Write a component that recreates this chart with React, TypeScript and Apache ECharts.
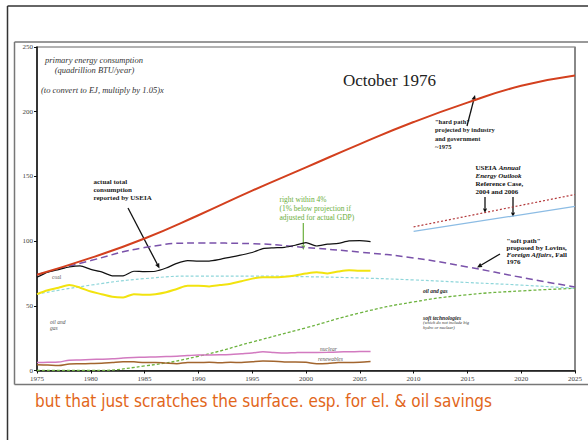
import React, { useEffect, useRef } from "react";
import * as echarts from "echarts";

// ---- data ----
const projYears = [1975, 1980, 1985, 1990, 1995, 2000, 2005, 2010, 2015, 2020, 2025];
const hardPath = [74, 87, 102, 120, 139, 157, 175, 192, 207, 220, 228];
const softPath = [74, 85, 95, 98.5, 98, 95, 91.5, 87, 80, 72, 64.5];
const softOilGas = [59, 66, 71, 73, 73, 72.5, 71.5, 70, 68, 66, 63.5];
const softTech = [0, 0, 3.5, 11, 22, 33, 44.5, 53, 58.5, 61.5, 63.5];

const histYears = [
  1975, 1976, 1977, 1978, 1979, 1980, 1981, 1982, 1983, 1984, 1985, 1986, 1987, 1988, 1989, 1990,
  1991, 1992, 1993, 1994, 1995, 1996, 1997, 1998, 1999, 2000, 2001, 2002, 2003, 2004, 2005, 2006,
];
const actualTotal = [
  72, 76, 78, 80, 80.9, 78.1, 76.2, 73.2, 73.1, 76.7, 76.4, 76.7, 79.2, 82.8, 84.9, 84.6,
  84.6, 85.9, 87.6, 89.3, 91.2, 94.2, 94.8, 95.2, 96.8, 98.8, 96.2, 97.7, 98.2, 100.2, 100.3, 99.6,
];
const oilGasActual = [
  59, 62, 64, 66, 64, 61, 59, 57, 56.5, 59, 58.5, 59, 60.5, 63, 65.5, 65.5,
  65, 66, 67, 69, 71, 72, 72, 72.5, 73.5, 75, 76, 75, 76.5, 77.5, 77, 77,
];
const nuclearActual = [
  6.2, 6.3, 6.5, 8, 8.2, 8.5, 8.7, 9, 9.6, 10, 10.3, 10.5, 10.8, 11, 11.5, 12,
  12, 12.1, 12.4, 13, 13.6, 14.5, 14, 13.5, 13.8, 14, 14, 14.1, 14.3, 14.5, 14.6, 14.7,
];
const renewablesActual = [
  4.5, 4.2, 3.8, 5, 5.2, 5.4, 5.6, 6.2, 6.8, 6.7, 6.2, 6.2, 5.7, 5.3, 6.2, 6.2,
  6.3, 6, 6.3, 6.2, 6.8, 7.3, 7.2, 6.6, 6.6, 6.3, 5.3, 5.5, 6.1, 6.2, 6.4, 6.9,
];

const aeoYears = [2010, 2025];
const aeo2004 = [111, 136];
const aeo2006 = [107.5, 126.8];

const xTicks = [1975, 2025, 5];
const yTicks = [0, 250, 50];

const pairs = (xs: number[], ys: number[]) => xs.map((x, i) => [x, ys[i]]);

const SERIF = "'Liberation Serif', 'DejaVu Serif', serif";

function arrow(x1: number, y1: number, x2: number, y2: number, color: string, w = 1.3, head = 5) {
  const a = Math.atan2(y2 - y1, x2 - x1);
  const hw = head * 0.45;
  const bx = x2 - head * Math.cos(a);
  const by = y2 - head * Math.sin(a);
  const px = -Math.sin(a) * hw;
  const py = Math.cos(a) * hw;
  return [
    { type: "line", silent: true, shape: { x1, y1, x2: bx, y2: by }, style: { stroke: color, lineWidth: w } },
    {
      type: "polygon",
      silent: true,
      shape: { points: [[x2, y2], [bx + px, by + py], [bx - px, by - py]] },
      style: { fill: color },
    },
  ];
}

function txt(x: number, y: number, text: string, opts: any = {}) {
  return {
    type: "text",
    x,
    y,
    silent: true,
    style: {
      text,
      fill: opts.fill || "#222",
      font: opts.font || `8px ${SERIF}`,
      textAlign: opts.align || "left",
      textVerticalAlign: "middle",
      lineHeight: opts.lh,
      rich: opts.rich,
    },
  };
}

function frameLine(x1: number, y1: number, x2: number, y2: number, color: string, w: number) {
  return { type: "line", silent: true, shape: { x1, y1, x2, y2 }, style: { stroke: color, lineWidth: w } };
}

export default function App() {
  const ref = useRef<HTMLDivElement>(null);
  useEffect(() => {
    if (!ref.current) return;
    const chart = echarts.init(ref.current, undefined, { renderer: "svg" });
    const axisLabel = { color: "#444", fontSize: 7, fontFamily: SERIF };
    const option: any = {
      animation: false,
      backgroundColor: "#fff",
      grid: {
        left: 37,
        right: 13,
        top: 47,
        bottom: 69.5,
        show: true,
        borderColor: "#666",
        borderWidth: 1.2,
      },
      xAxis: {
        type: "value",
        min: xTicks[0],
        max: xTicks[1],
        interval: xTicks[2],
        axisLine: { lineStyle: { color: "#111", width: 1.5 } },
        axisTick: { show: true, length: 3, lineStyle: { color: "#111" } },
        axisLabel: { ...axisLabel, margin: 5, formatter: (v: number) => String(v) },
        splitLine: { show: false },
      },
      yAxis: {
        type: "value",
        min: yTicks[0],
        max: yTicks[1],
        interval: yTicks[2],
        axisLine: { show: true, lineStyle: { color: "#111", width: 1.5 } },
        axisTick: { show: true, length: 3, lineStyle: { color: "#111" } },
        axisLabel: { ...axisLabel, margin: 4 },
        splitLine: { show: false },
      },
      series: [
        {
          name: "soft technologies",
          type: "line",
          data: pairs(projYears, softTech),
          smooth: true,
          showSymbol: false,
          lineStyle: { color: "#6db33f", width: 1.3, type: [3, 2] },
        },
        {
          name: "soft oil and gas",
          type: "line",
          data: pairs(projYears, softOilGas),
          smooth: true,
          showSymbol: false,
          lineStyle: { color: "#8fd6da", width: 1.2, type: [3, 2] },
        },
        {
          name: "renewables",
          type: "line",
          data: pairs(histYears, renewablesActual),
          smooth: 0.3,
          showSymbol: false,
          lineStyle: { color: "#a2652e", width: 1.5 },
        },
        {
          name: "nuclear",
          type: "line",
          data: pairs(histYears, nuclearActual),
          smooth: 0.3,
          showSymbol: false,
          lineStyle: { color: "#d27ac0", width: 1.5 },
        },
        {
          name: "oil and gas actual",
          type: "line",
          data: pairs(histYears, oilGasActual),
          smooth: 0.3,
          showSymbol: false,
          lineStyle: { color: "#f2e30f", width: 2 },
        },
        {
          name: "soft path",
          type: "line",
          data: pairs(projYears, softPath),
          smooth: true,
          showSymbol: false,
          lineStyle: { color: "#7a52aa", width: 1.5, type: [7, 4] },
        },
        {
          name: "actual total",
          type: "line",
          data: pairs(histYears, actualTotal),
          smooth: 0.2,
          showSymbol: false,
          lineStyle: { color: "#111", width: 1.2 },
        },
        {
          name: "hard path",
          type: "line",
          data: pairs(projYears, hardPath),
          smooth: true,
          showSymbol: false,
          lineStyle: { color: "#d3401e", width: 2 },
        },
        {
          name: "AEO 2004",
          type: "line",
          data: pairs(aeoYears, aeo2004),
          showSymbol: false,
          lineStyle: { color: "#b2383a", width: 1.2, type: [2, 2] },
        },
        {
          name: "AEO 2006",
          type: "line",
          data: pairs(aeoYears, aeo2006),
          showSymbol: false,
          lineStyle: { color: "#8cbce4", width: 1.2 },
        },
      ],
      graphic: [
        // slide frames
        frameLine(7.5, 6, 7.5, 440, "#333", 1.5),
        frameLine(7.5, 6, 588, 6, "#333", 1.5),
        frameLine(14.5, 42, 14.5, 384.5, "#777", 1.5),
        frameLine(14.5, 42, 588, 42, "#777", 1.5),
        frameLine(14.5, 384.5, 588, 384.5, "#777", 1.5),
        frameLine(575, 47, 575, 371, "#888", 2),
        // texts
        txt(94, 59.5, "primary energy consumption", { font: `italic 8.5px ${SERIF}`, align: "center", fill: "#333" }),
        txt(94.5, 69.5, "(quadrillion BTU/year)", { font: `italic 8.5px ${SERIF}`, align: "center", fill: "#333" }),
        txt(41, 89.5, "(to convert to EJ, multiply by 1.05)x", { font: `italic 8.5px ${SERIF}`, fill: "#333" }),
        txt(343, 80, "October 1976", { font: `17px ${SERIF}`, fill: "#222" }),
        txt(435, 134, '"hard path"\nprojected by industry\nand government\n~1975', {
          font: `bold 6.5px ${SERIF}`,
          lh: 8.2,
        }),
        ...arrow(467, 126, 475, 95, "#111"),
        {
          type: "text",
          x: 475.5,
          y: 180,
          silent: true,
          style: {
            text: "{b|USEIA }{bi|Annual}\n{bi|Energy Outlook}\n{b|Reference Case,}\n{b|2004 and 2006}",
            textVerticalAlign: "middle",
            rich: {
              b: { font: `bold 7px ${SERIF}`, fill: "#111", lineHeight: 8 },
              bi: { font: `bold italic 7px ${SERIF}`, fill: "#111", lineHeight: 8 },
            },
          },
        },
        ...arrow(485, 197, 485, 213, "#111", 1.3, 4.5),
        ...arrow(513, 197, 513, 217, "#111", 1.3, 4.5),
        {
          type: "text",
          x: 506.5,
          y: 251.5,
          silent: true,
          style: {
            text: '{b|"soft path"}\n{b|proposed by Lovins,}\n{bi|Foreign Affairs}{b|, Fall}\n{b|1976}',
            textVerticalAlign: "middle",
            rich: {
              b: { font: `bold 7px ${SERIF}`, fill: "#111", lineHeight: 7.3 },
              bi: { font: `bold italic 7px ${SERIF}`, fill: "#111", lineHeight: 7.3 },
            },
          },
        },
        ...arrow(500, 254, 477, 267.5, "#111"),
        txt(93.5, 190, "actual total\nconsumption\nreported by USEIA", { font: `bold 7px ${SERIF}`, lh: 8 }),
        ...arrow(128, 208, 159.5, 268.5, "#111"),
        txt(279.5, 208.5, "right within 4%\n(1% below projection if\nadjusted for actual GDP)", {
          font: `7.5px ${SERIF}`,
          lh: 9,
          fill: "#6aae3c",
        }),
        ...arrow(303.3, 223, 303.3, 250, "#6aae3c", 1.2, 4.5),
        txt(52, 276.5, "coal", { font: `5.5px ${SERIF}`, fill: "#555" }),
        txt(50, 325, "oil and\ngas", { font: `italic 5.5px ${SERIF}`, fill: "#555", lh: 6 }),
        txt(423, 291, "oil and gas", { font: `bold italic 5.5px ${SERIF}`, fill: "#222" }),
        txt(423, 317.5, "soft technologies", { font: `bold italic 5.5px ${SERIF}`, fill: "#222" }),
        txt(423, 325, "(which do not include big\nhydro or nuclear)", { font: `italic 4.5px ${SERIF}`, fill: "#333", lh: 5 }),
        txt(320, 349, "nuclear", { font: `italic 5.5px ${SERIF}`, fill: "#555" }),
        txt(318, 359, "renewables", { font: `italic 5.5px ${SERIF}`, fill: "#555" }),
        txt(35, 401, "but that just scratches the surface. esp. for el. & oil savings", {
          font: `17px 'DejaVu Sans Condensed', 'DejaVu Sans', sans-serif`,
          fill: "#e2661a",
        }),
      ],
    };
    chart.setOption(option);
    return () => chart.dispose();
  }, []);
  return <div ref={ref} style={{ position: "fixed", left: 0, top: 0, width: 588, height: 440 }} />;
}
